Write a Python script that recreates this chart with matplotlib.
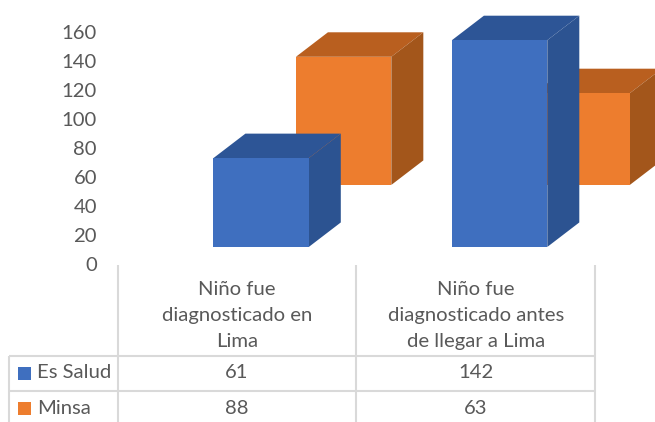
import matplotlib
matplotlib.use('Agg')
import matplotlib.pyplot as plt
from matplotlib.patches import Polygon, Rectangle

plt.rcParams['font.family'] = ['Lato', 'DejaVu Sans']

categories = ['Niño fue\ndiagnosticado en\nLima', 'Niño fue\ndiagnosticado antes\nde llegar a Lima']
series = ['Es Salud', 'Minsa']
es_salud = [61, 142]
minsa = [88, 63]
yticks = [0, 20, 40, 60, 80, 100, 120, 140, 160]

W, H = 655, 422
fs = 14.6
text_col = '#595959'
grid_col = '#d9d9d9'
blue = ('#3f6fbf', '#2c5391', '#2d5596')    # front, side, top
orange = ('#ed7d2e', '#a3561b', '#b95f1f')

# scales: one category = 238.5 px, one y unit = 1.456 px, 0 is at pixel 265
px_x = 238.5
px_y = 1.456
dx = 32 / px_x
dy = 24.5 / px_y
bar_w = 0.4

fig = plt.figure(figsize=(W / 100, H / 100), dpi=100)
ax = fig.add_axes([0, 0, 1, 1])
ax.set_xlim(-118 / px_x, (W - 118) / px_x)
ax.set_ylim((265 - H) / px_y, 265 / px_y)
ax.axis('off')


def bar3d(x, base, val, cols, z):
    x2 = x + bar_w
    top = base + val
    ax.add_patch(Polygon([(x, top), (x2, top), (x2 + dx, top + dy), (x + dx, top + dy)], fc=cols[2], ec='none', zorder=z))
    ax.add_patch(Polygon([(x2, base), (x2 + dx, base + dy), (x2 + dx, top + dy), (x2, top)], fc=cols[1], ec='none', zorder=z))
    ax.add_patch(Rectangle((x, base), bar_w, val, fc=cols[0], ec='none', zorder=z))


# back row first, so the blue row covers it
for i in range(len(categories)):
    bar3d(i + 0.746, 55, minsa[i], orange, 2 + i)
for i in range(len(categories)):
    bar3d(i + 0.40, 12.4, es_salud[i], blue, 5 + i)

for t in yticks:
    ax.annotate(str(t), (97 / W, t), xycoords=ax.get_yaxis_transform(), xytext=(0, -0.7), textcoords='offset points',
                ha='right', va='center', fontsize=fs, color=text_col)

# data table under the chart, in pixel coordinates
tb = fig.add_axes([0, 0, 1, 1], facecolor='none')
tb.set_xlim(0, W)
tb.set_ylim(H, 0)
tb.axis('off')

for x in [118, 356, 595]:
    tb.plot([x, x], [265, H], color=grid_col, lw=1.5, solid_capstyle='butt')
tb.plot([9, 9], [356, H], color=grid_col, lw=1.5, solid_capstyle='butt')
for y in [356, 391]:
    tb.plot([9, 595], [y, y], color=grid_col, lw=1.5, solid_capstyle='butt')

centers = [237, 476]
for c, label in zip(centers, categories):
    tb.text(c, 315.5, label, ha='center', va='center', fontsize=fs, color=text_col, linespacing=1.66)

rows = [(373, es_salud, blue[0]), (408.5, minsa, orange[0])]
for (y, vals, col), name in zip(rows, series):
    tb.add_patch(Rectangle((18, y - 6.5), 13, 13, fc=col, ec='none'))
    tb.text(37, y, name, ha='left', va='center', fontsize=fs, color=text_col)
    for c, v in zip(centers, vals):
        tb.text(c, y, str(v), ha='center', va='center', fontsize=fs, color=text_col)

fig.savefig('out.png', dpi=100)
